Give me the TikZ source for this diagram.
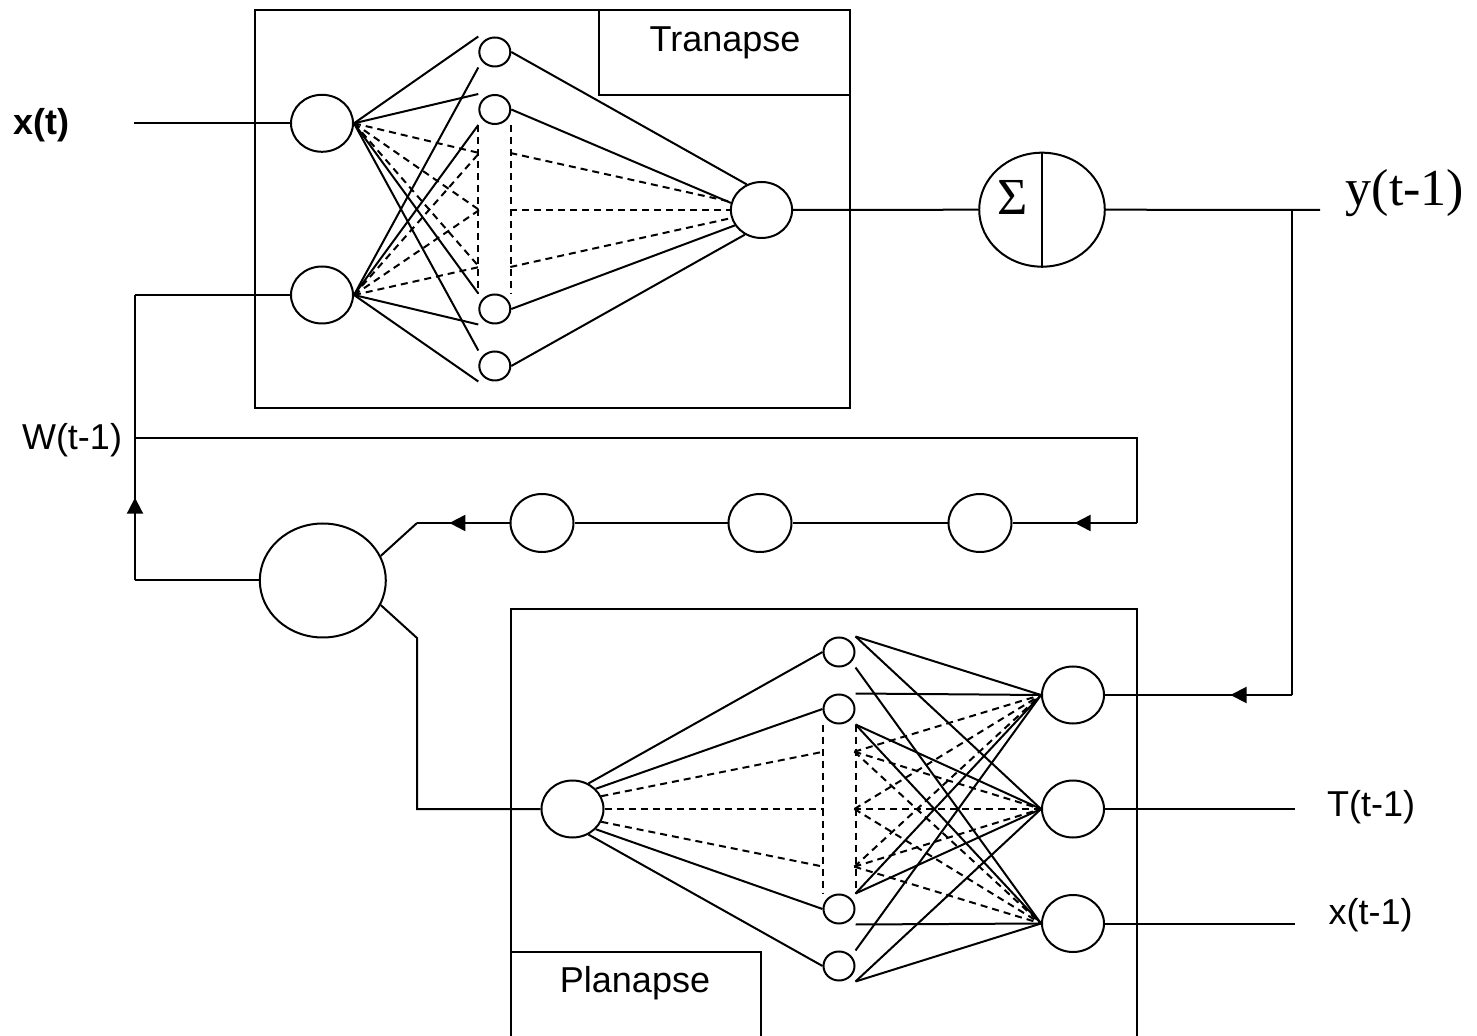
\documentclass[tikz,border=0pt]{standalone}
\usepackage{fontspec}
\setmainfont{Liberation Sans}
\newfontfamily\timesfont{Liberation Serif}
\usetikzlibrary{shapes.geometric,arrows.meta,decorations.markings,calc}

\tikzset{
  every path/.style={line width=1pt},
  neuron/.style={draw, ellipse, inner sep=0pt, minimum width=31pt, minimum height=28.5pt},
  unit/.style={draw, ellipse, inner sep=0pt, minimum width=15.5pt, minimum height=14.5pt},
  bigcell/.style={draw, ellipse, inner sep=0pt, minimum width=63pt, minimum height=57pt},
  dashlink/.style={dash pattern=on 3.5pt off 2.5pt},
  lab/.style={inner sep=0pt, font=\fontsize{18}{20}\selectfont},
  serlab/.style={inner sep=0pt, font=\timesfont\fontsize{26}{28}\selectfont},
  midarrow/.style={postaction={decorate}, decoration={markings,
      mark=at position #1 with {\arrow{Triangle[length=8pt,width=8pt]}}}}
}

\begin{document}
\begin{tikzpicture}[x=0.5pt,y=-0.5pt]
\useasboundingbox (0,0) rectangle (1477,1036);

% ---------- Tranapse block ----------
\draw (255,10) rectangle (850,408);
\draw (599.4,10) rectangle (850,95);
\node[lab, anchor=base] (tranlab) at (725,51.7) {Tranapse};

\node[neuron] (i1) at (322,123.3) {};
\node[neuron] (i2) at (322,295) {};
\node[unit] (th1) at (494.8,52) {};
\node[unit] (th2) at (494.8,109.5) {};
\node[unit] (th3) at (494.8,309) {};
\node[unit] (th4) at (494.8,366) {};
\node[neuron, minimum width=30.6pt, minimum height=28pt] (to) at (761.5,210) {};

\coordinate (tl1) at (479.3,153);
\coordinate (tl2) at (479.3,210);
\coordinate (tl3) at (479.3,267);
\coordinate (tr1) at (510.3,153);
\coordinate (tr2) at (510.3,210);
\coordinate (tr3) at (510.3,267);

% inputs to hidden layer
\foreach \h in {th1,th2,th3,th4} {
  \draw (i1.east) -- (\h.west |- \h.north);
  \draw (i2.east) -- (\h.west |- \h.south);
}
\foreach \c in {tl1,tl2,tl3} {
  \draw[dashlink] (i1.east) -- (\c);
  \draw[dashlink] (i2.east) -- (\c);
}
\draw[dashlink] (th2.west |- th2.south) -- (th3.west |- th3.north);
\draw[dashlink] (th2.east |- th2.south) -- (th3.east |- th3.north);

% hidden layer to output
\draw (th1.east) -- (to.120);
\draw (th2.east) -- (to.167);
\draw (th3.east) -- (to.210);
\draw (th4.east) -- (to.236);
\draw[dashlink] (tr1) -- (to.165);
\draw[dashlink] (tr2) -- (to.west);
\draw[dashlink] (tr3) -- (to.195);

% input label
\node[lab, anchor=base, font=\bfseries\fontsize{18}{20}\selectfont] (xlab) at (41.5,135) {x(t)};
\coordinate (xin) at (134,123.3);
\draw (xin) -- (i1.west);

% ---------- summation ----------
\node[bigcell, minimum width=62.8pt] (sig) at (1042,209.7) {};
\draw (sig.north) -- (sig.south);
\node[serlab, anchor=base] (sigma) at (1013,215) {Σ};
\draw (to.east) -- (sig.west);

\coordinate (yend) at (1320,210);
\coordinate (ytap) at (1292.3,210);
\coordinate (ybot) at (1292.3,695);
\draw (sig.east) -- (yend);
\node[serlab, anchor=base] (ylab) at (1405,206) {y(t-1)};

% ---------- Planapse block ----------
\draw (510.7,1036) -- (510.7,608.8) -- (1136.7,608.8) -- (1136.7,1036);
\draw (510.7,1036) -- (510.7,951.7) -- (761.3,951.7) -- (761.3,1036);
\node[lab, anchor=base] (planlab) at (635,992.7) {Planapse};

\node[neuron] (bi) at (572.5,809) {};
\node[unit] (bh1) at (839,652) {};
\node[unit] (bh2) at (839,709) {};
\node[unit] (bh3) at (839,909) {};
\node[unit] (bh4) at (839,966) {};
\node[neuron] (bo1) at (1073,695) {};
\node[neuron] (bo2) at (1073,809) {};
\node[neuron] (bo3) at (1073,923.5) {};

\coordinate (bl1) at (823.6,751.7);
\coordinate (bl2) at (823.6,809);
\coordinate (bl3) at (823.6,866.7);
\coordinate (br1) at (854.4,751.7);
\coordinate (br2) at (854.4,809);
\coordinate (br3) at (854.4,866.7);

% input to hidden layer
\draw (bi.58) -- (bh1.west);
\draw (bi.41) -- (bh2.west);
\draw (bi.-41) -- (bh3.west);
\draw (bi.-58) -- (bh4.west);
\draw[dashlink] (bi.24) -- (bl1);
\draw[dashlink] (bi.east) -- (bl2);
\draw[dashlink] (bi.-24) -- (bl3);
\draw[dashlink] (bh2.west |- bh2.south) -- (bh3.west |- bh3.north);
\draw[dashlink] (bh2.east |- bh2.south) -- (bh3.east |- bh3.north);

% hidden layer to outputs
\draw (bh1.east |- bh1.north) -- (bo1.west);
\draw (bh1.east |- bh1.north) -- (bo2.west);
\draw (bh1.east |- bh1.south) -- (bo3.west);
\draw (bh2.east |- bh2.north) -- (bo1.west);
\draw (bh2.east |- bh2.south) -- (bo2.west);
\draw (bh2.east |- bh2.south) -- (bo3.west);
\draw (bh3.east |- bh3.north) -- (bo1.west);
\draw (bh3.east |- bh3.north) -- (bo2.west);
\draw (bh3.east |- bh3.south) -- (bo3.west);
\draw (bh4.east |- bh4.north) -- (bo1.west);
\draw (bh4.east |- bh4.south) -- (bo2.west);
\draw (bh4.east |- bh4.south) -- (bo3.west);
\foreach \c in {br1,br2,br3} {
  \foreach \o in {bo1,bo2,bo3} {
    \draw[dashlink] (\c) -- (\o.west);
  }
}

% outputs
\draw (ytap) -- (ybot);
\draw[midarrow=0.33] (ybot) -- (bo1.east);
\coordinate (tend) at (1295,809);
\coordinate (xend) at (1295,923.5);
\draw (bo2.east) -- (tend);
\draw (bo3.east) -- (xend);
\node[lab, anchor=base] (tlab) at (1371,816.6) {T(t-1)};
\node[lab, anchor=base] (xlab2) at (1370.5,924) {x(t-1)};

% ---------- weight feedback ----------
\node[neuron, minimum width=31.5pt, minimum height=29pt] (f1) at (542,523) {};
\node[neuron, minimum width=31.5pt, minimum height=29pt] (f2) at (760,523) {};
\node[neuron, minimum width=31.5pt, minimum height=29pt] (f3) at (980,523) {};
\node[bigcell] (big) at (322.8,580.5) {};

\coordinate (wl) at (135,438);
\coordinate (wr) at (1136.7,438);
\coordinate (lr) at (1136.7,523);
\coordinate (lt) at (135,295);
\coordinate (lb) at (135,580.5);
\coordinate (dj1) at (417,523);
\coordinate (dj2) at (417,638);
\coordinate (dj3) at (417,809);

\node[lab, anchor=base] (wlab) at (72,450) {W(t-1)};
\draw (wl) -- (wr) -- (lr);
\draw[midarrow=0.5] (lr) -- (f3.east);
\draw (f3.west) -- (f2.east);
\draw (f2.west) -- (f1.east);
\draw[midarrow=0.65] (f1.west) -- (dj1);
\draw (dj1) -- (big.23);
\draw (big.-23) -- (dj2) -- (dj3) -- (bi.west);
\draw (big.west) -- (lb);
\draw[midarrow=0.29] (lb) -- (lt);
\draw (lt) -- (i2.west);
\end{tikzpicture}
\end{document}
